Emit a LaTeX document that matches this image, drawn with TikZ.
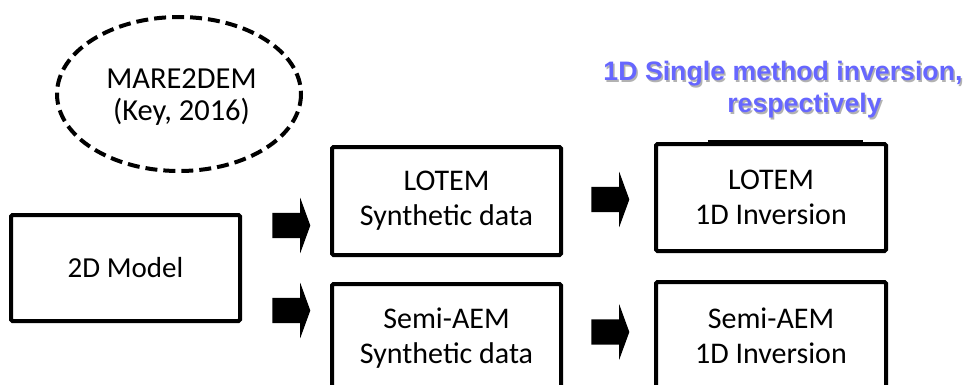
\documentclass[tikz,border=0pt]{standalone}
\usepackage{fontspec}
\setmainfont{Carlito}
\newfontfamily\headfont{Liberation Sans}
\usetikzlibrary{shapes.arrows}
\definecolor{headblue}{RGB}{102,102,255}
\begin{document}
\begin{tikzpicture}[x=1pt,y=-1pt,
  box/.style={draw, line width=4pt, rounded corners=1.5pt, minimum width=229pt,
    minimum height=107pt, inner sep=0pt, align=center,
    font=\fontsize{30}{35}\selectfont},
  blockarrow/.style={single arrow, fill=black, draw=none, minimum height=38pt,
    minimum width=55pt, single arrow head extend=15pt, single arrow tip angle=140,
    inner xsep=0pt, inner ysep=12.5pt, outer sep=0pt},
  headline/.style={font=\headfont\bfseries\fontsize{26.7}{32}\selectfont, inner sep=0pt, anchor=base},
]
\useasboundingbox (0,0) rectangle (968,385);
\clip (0,0) rectangle (968,385);
\fill[white] (0,0) rectangle (968,385);

% reference software
\draw[line width=4pt, dash pattern=on 12pt off 6pt] (179,94) ellipse [x radius=122, y radius=77];
\node[align=center, inner sep=0pt, font=\fontsize{30.5}{32.5}\selectfont] (mare) at (181.5,97) {MARE2DEM\\(Key, 2016)};

% boxes
\node[box, minimum height=106pt, font=\fontsize{29}{35}\selectfont] (model) at (125.5,268) {2D Model};
\node[box, minimum height=108pt] (lsyn) at (446.5,201) {LOTEM\\Synthetic data};
\node[box, minimum height=108pt] (ssyn) at (446.5,338) {Semi-AEM\\Synthetic data};
\node[box, minimum width=230pt] (linv) at (771,197.5) {LOTEM\\1D Inversion};
\node[box, minimum width=230pt] (sinv) at (771,335.5) {Semi-AEM\\1D Inversion};

% block arrows between the stages
\node[blockarrow] (a1) at (289,225.5) {};
\node[blockarrow] (a2) at (289,310.5) {};
\node[blockarrow] (a3) at (608,199.5) {};
\node[blockarrow] (a4) at (608,332) {};

% heading over the inversion column
\foreach \dx/\col in {1.5/black!30, 0/headblue} {
  \node[headline, text=\col] (h1) at (783+\dx,81+\dx) {1D Single method inversion,};
  \node[headline, text=\col] (h2) at (804.5+\dx,113+\dx) {respectively};
}

% rule above the upper inversion box
\coordinate (r1) at (708,141);
\coordinate (r2) at (863,141);
\draw[line width=2.5pt] (r1) -- (r2);
\end{tikzpicture}
\end{document}
